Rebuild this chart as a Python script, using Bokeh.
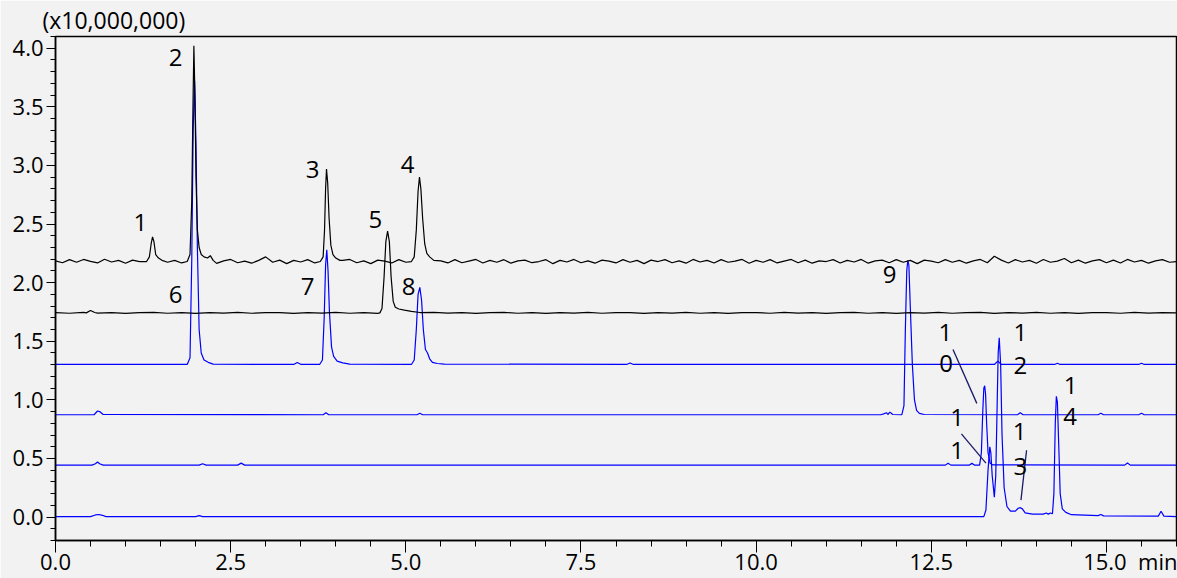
import numpy as np
from bokeh.plotting import figure
from bokeh.models import Range1d, PrintfTickFormatter, SingleIntervalTicker, Title
from bokeh.embed import file_html
from bokeh.resources import INLINE
from bokeh.core.properties import value

FONT = "Open Sans"

# ---------------- data: time (min), intensity (x10,000,000) ----------------
grid_a_t = np.round(np.arange(0, 16.001, 0.1), 2)
trace_a_base = 2.18
trace_a_noise = [
    0.006, -0.010, 0.016, -0.006, 0.018, 0.002, -0.012, 0.020, -0.004, 0.010,
    -0.014, 0.012, 0.000, 0.018, -0.010, 0.014, -0.006, 0.010, -0.012, 0.006,
    0.014, -0.010, 0.012, -0.016, 0.006, 0.018, -0.010, 0.004, -0.014, 0.010,
    0.040, -0.006, 0.012, -0.018, 0.010, -0.004, 0.016, -0.012, 0.006, 0.000,
    -0.014, 0.010, 0.018, -0.010, 0.006, -0.018, 0.012, 0.004, -0.012, 0.016,
    -0.006, 0.010, -0.016, 0.018, -0.004, 0.006, -0.012, 0.016, -0.010, 0.004,
    0.018, -0.012, 0.010, -0.006, 0.016, -0.014, 0.006, 0.012, -0.010, 0.000,
    0.016, -0.018, 0.010, -0.004, 0.018, -0.010, 0.006, -0.014, 0.012, 0.004,
    -0.012, 0.016, -0.006, 0.010, -0.018, 0.012, 0.000, 0.016, -0.010, 0.006,
    -0.014, 0.018, -0.004, 0.010, -0.012, 0.016, -0.006, 0.004, 0.018, -0.014,
    0.010, -0.006, 0.016, -0.012, 0.004, 0.018, -0.010, 0.012, -0.014, 0.006,
    0.000, 0.016, -0.012, 0.010, -0.004, 0.018, -0.014, 0.006, 0.012, -0.010,
    0.016, -0.006, 0.010, -0.018, 0.012, 0.004, -0.010, 0.016, -0.006, 0.010,
    -0.014, 0.006, 0.018, -0.010, 0.045, 0.012, -0.012, 0.016, -0.004, 0.010,
    -0.014, 0.018, -0.006, 0.004, 0.026, -0.010, 0.012, -0.014, 0.006, 0.016,
    -0.010, 0.012, -0.012, 0.018, -0.004, 0.010, -0.014, 0.006, 0.016, -0.006,
    0.000,
]
trace_a_peaks_t = [
    [1.30, 1.34, 1.365, 1.385, 1.405, 1.43, 1.47, 1.52],
    [1.88, 1.92, 1.945, 1.962, 1.975, 1.99, 2.005, 2.025, 2.05, 2.08, 2.12, 2.17, 2.21, 2.25],
    [3.78, 3.82, 3.84, 3.855, 3.868, 3.885, 3.905, 3.93, 3.96, 4.00, 4.06],
    [5.08, 5.12, 5.15, 5.175, 5.195, 5.215, 5.24, 5.27, 5.30, 5.34, 5.40],
]
trace_a_peaks_y = [
    [2.18, 2.22, 2.33, 2.39, 2.35, 2.24, 2.21, 2.19],
    [2.18, 2.24, 2.70, 3.50, 4.02, 3.60, 2.90, 2.45, 2.30, 2.24, 2.22, 2.21, 2.23, 2.19],
    [2.18, 2.22, 2.45, 2.80, 2.97, 2.85, 2.55, 2.32, 2.24, 2.21, 2.19],
    [2.18, 2.22, 2.45, 2.78, 2.90, 2.80, 2.55, 2.33, 2.25, 2.22, 2.19],
]

grid_b_t = np.round(np.arange(0, 16.001, 0.2), 2)
trace_b_base = 1.742
trace_b_noise = [
    0.002, -0.003, 0.004, -0.002, 0.003, -0.004, 0.002, 0.004, -0.003, 0.002,
    -0.004, 0.003, -0.002, 0.004, -0.003, 0.002, 0.003, -0.004, 0.002, -0.002,
    0.004, -0.003, 0.002, -0.004, 0.003, 0.002, -0.003, 0.004, -0.002, 0.003,
    -0.004, 0.002, 0.004, -0.003, 0.002, -0.004, 0.003, -0.002, 0.004, -0.003,
    0.002, 0.003, -0.004, 0.002, -0.002, 0.004, -0.003, 0.002, -0.004, 0.003,
    0.002, -0.003, 0.004, -0.002, 0.003, -0.004, 0.002, 0.004, -0.003, 0.002,
    -0.004, 0.003, -0.002, 0.004, -0.003, 0.002, 0.005, -0.004, 0.002, -0.002,
    0.004, -0.003, 0.002, -0.004, 0.003, 0.002, -0.003, 0.004, -0.002, 0.003,
    0.000,
]
trace_b_peaks_t = [
    [0.44, 0.50, 0.56],
    [4.63, 4.66, 4.69, 4.715, 4.74, 4.765, 4.79, 4.82, 4.85, 4.90, 4.98, 5.08, 5.20],
]
trace_b_peaks_y = [
    [1.742, 1.762, 1.745],
    [1.742, 1.78, 2.05, 2.35, 2.44, 2.35, 2.05, 1.84, 1.79, 1.775, 1.765, 1.755, 1.745],
]

trace_c_base = 1.302
trace_c_peaks_t = [
    [1.88, 1.92, 1.945, 1.965, 1.985, 2.005, 2.025, 2.05, 2.08, 2.12, 2.18, 2.25],
    [3.40, 3.45, 3.50],
    [3.77, 3.81, 3.835, 3.855, 3.872, 3.89, 3.91, 3.94, 3.97, 4.02, 4.10, 4.20],
    [5.08, 5.12, 5.15, 5.175, 5.20, 5.225, 5.25, 5.28, 5.31, 5.34, 5.38, 5.45, 5.55],
    [8.15, 8.20, 8.25],
    [13.40, 13.45, 13.50],
    [14.26, 14.30, 14.34],
    [15.46, 15.50, 15.54],
]
trace_c_peaks_y = [
    [1.302, 1.36, 2.20, 3.30, 3.72, 3.20, 2.30, 1.60, 1.40, 1.34, 1.32, 1.305],
    [1.302, 1.318, 1.303],
    [1.302, 1.34, 1.70, 2.15, 2.28, 2.10, 1.75, 1.45, 1.37, 1.33, 1.315, 1.305],
    [1.302, 1.34, 1.60, 1.90, 1.96, 1.85, 1.60, 1.43, 1.40, 1.35, 1.32, 1.31, 1.305],
    [1.302, 1.315, 1.302],
    [1.302, 1.33, 1.302],
    [1.302, 1.312, 1.302],
    [1.302, 1.312, 1.302],
]

trace_d_base = 0.873
trace_d_peaks_t = [
    [0.55, 0.60, 0.63, 0.68],
    [3.82, 3.86, 3.90],
    [5.16, 5.20, 5.24],
    [11.78, 11.82, 11.86, 11.88, 11.91, 11.95],
    [12.08, 12.11, 12.13, 12.15, 12.165, 12.18, 12.20, 12.23, 12.26, 12.29, 12.33, 12.40],
    [13.73, 13.77, 13.81],
    [14.88, 14.92, 14.96],
    [15.46, 15.50, 15.54],
]
trace_d_peaks_y = [
    [0.873, 0.905, 0.90, 0.875],
    [0.873, 0.89, 0.873],
    [0.873, 0.885, 0.873],
    [0.873, 0.88, 0.89, 0.875, 0.895, 0.875],
    [0.873, 0.95, 1.60, 2.10, 2.19, 2.15, 1.80, 1.30, 1.00, 0.91, 0.885, 0.875],
    [0.873, 0.89, 0.873],
    [0.873, 0.885, 0.873],
    [0.873, 0.885, 0.873],
]

trace_e_base = 0.443
trace_e_peaks_t = [
    [0.52, 0.57, 0.60, 0.63, 0.68],
    [2.05, 2.10, 2.15],
    [2.60, 2.65, 2.70],
    [12.70, 12.74, 12.78],
    [13.04, 13.08, 13.12],
    [13.19, 13.215, 13.235, 13.25, 13.262, 13.275, 13.29, 13.31, 13.34, 13.38],
    [15.26, 15.30, 15.34],
]
trace_e_peaks_y = [
    [0.443, 0.455, 0.47, 0.455, 0.443],
    [0.443, 0.455, 0.443],
    [0.443, 0.46, 0.443],
    [0.443, 0.46, 0.443],
    [0.443, 0.458, 0.443],
    [0.443, 0.55, 0.90, 1.10, 1.12, 1.05, 0.80, 0.55, 0.46, 0.445],
    [0.443, 0.462, 0.443],
]

trace_f_base = 0.004
trace_f_peaks_t = [
    [0.50, 0.57, 0.62, 0.67, 0.72],
    [2.00, 2.05, 2.10],
    [13.25, 13.28, 13.31, 13.335, 13.35, 13.37, 13.40, 13.42, 13.44, 13.455, 13.47,
     13.49, 13.51, 13.54, 13.58, 13.63, 13.70, 13.74, 13.77, 13.80, 13.84, 13.90],
    [13.95, 14.10, 14.14, 14.17, 14.20, 14.22],
    [14.23, 14.25, 14.27, 14.285, 14.30, 14.32, 14.34, 14.37, 14.42, 14.50],
    [14.88, 14.92, 14.96],
    [15.74, 15.78, 15.82],
]
trace_f_peaks_y = [
    [0.004, 0.018, 0.022, 0.015, 0.004],
    [0.004, 0.012, 0.004],
    [0.004, 0.06, 0.40, 0.60, 0.55, 0.35, 0.17, 0.35, 0.95, 1.40, 1.53,
     1.30, 0.70, 0.25, 0.09, 0.05, 0.05, 0.075, 0.08, 0.07, 0.035, 0.03],
    [0.025, 0.025, 0.035, 0.025, 0.035, 0.03],
    [0.03, 0.20, 0.80, 1.03, 0.98, 0.60, 0.20, 0.07, 0.04, 0.02],
    [0.012, 0.022, 0.010],
    [0.008, 0.050, 0.008],
]

peak_label_text = ["1", "2", "3", "4", "5", "6", "7", "8", "9",
                   "1", "0", "1", "2", "1", "1", "1", "3", "1", "4"]
peak_label_x = [1.213, 1.713, 3.668, 5.024, 4.567, 1.713, 3.597, 5.039, 11.904,
                12.70, 12.71, 13.77, 13.77, 12.87, 12.87, 13.76, 13.77, 14.49, 14.48]
peak_label_y = [2.516, 3.921, 2.967, 3.010, 2.542, 1.903, 1.963, 1.963, 2.073,
                1.571, 1.307, 1.571, 1.290, 0.847, 0.566, 0.728, 0.430, 1.120, 0.856]

leader_x0 = [12.81, 12.93, 13.86]
leader_y0 = [1.43, 0.71, 0.57]
leader_x1 = [13.15, 13.28, 13.78]
leader_y1 = [0.97, 0.46, 0.145]

y_scale_text = "(x10,000,000)"
x_unit_text = "min"


def build(base, grid_t, noise, peaks_t, peaks_y):
    pts = [(float(t), base + n) for t, n in zip(grid_t, noise)]
    for pt in peaks_t:
        pts = [(t, y) for t, y in pts if not (pt[0] <= t <= pt[-1])]
    for pt, py in zip(peaks_t, peaks_y):
        pts += list(zip(pt, py))
    pts.sort(key=lambda q: q[0])
    return [q[0] for q in pts], [q[1] for q in pts]


flat_t = [0.0, 16.0]
flat_n = [0.0, 0.0]

traces = [
    (build(trace_c_base, flat_t, flat_n, trace_c_peaks_t, trace_c_peaks_y), "#0000ff"),
    (build(trace_d_base, flat_t, flat_n, trace_d_peaks_t, trace_d_peaks_y), "#0000ff"),
    (build(trace_e_base, flat_t, flat_n, trace_e_peaks_t, trace_e_peaks_y), "#0000ff"),
    (build(trace_f_base, flat_t, flat_n, trace_f_peaks_t, trace_f_peaks_y), "#0000ff"),
    (build(trace_b_base, grid_b_t, trace_b_noise, trace_b_peaks_t, trace_b_peaks_y), "#000000"),
    (build(trace_a_base, grid_a_t, trace_a_noise, trace_a_peaks_t, trace_a_peaks_y), "#000000"),
]

p = figure(width=1177, height=578, output_backend="svg", toolbar_location=None,
           x_range=Range1d(0, 16.0), y_range=Range1d(-0.2, 4.1),
           min_border_left=55, min_border_top=36, min_border_right=1, min_border_bottom=37,
           background_fill_color="#f2f2f2", border_fill_color="#f2f2f2")
p.outline_line_color = "black"
p.outline_line_width = 1.5
p.xgrid.visible = False
p.ygrid.visible = False

p.add_layout(Title(text=y_scale_text, align="left", offset=-13, standoff=1,
                   text_font=FONT, text_font_size="23px", text_font_style="normal",
                   text_color="black"), "above")

for (tx, ty), col in traces:
    p.line(tx, ty, line_color=col, line_width=1.2)

p.segment(leader_x0, leader_y0, leader_x1, leader_y1, line_color="#1a1a66", line_width=1.3)
p.text(peak_label_x, peak_label_y, text=peak_label_text, text_align="center",
       text_baseline="middle", text_font=value(FONT), text_font_size="24px", text_color="black")

for ax in (p.xaxis[0], p.yaxis[0]):
    ax.formatter = PrintfTickFormatter(format="%.1f")
    ax.axis_line_color = "black"
    ax.axis_line_width = 1.5
    ax.major_tick_line_color = "black"
    ax.minor_tick_line_color = "black"
    ax.major_label_text_font = FONT
    ax.major_label_text_font_size = "22px"
    ax.major_label_text_color = "black"
    ax.major_tick_in = 0
    ax.minor_tick_in = 0

p.xaxis[0].ticker = SingleIntervalTicker(interval=2.5, num_minor_ticks=5)
p.yaxis[0].ticker = SingleIntervalTicker(interval=0.5, num_minor_ticks=5)
p.xaxis[0].major_tick_out = 12
p.xaxis[0].minor_tick_out = 6
p.xaxis[0].major_label_standoff = -7
nb = "\u00a0"
p.xaxis[0].major_label_overrides = {15: nb * 9 + "15.0" + nb * 2 + x_unit_text}
p.yaxis[0].major_tick_out = 9
p.yaxis[0].minor_tick_out = 5
p.yaxis[0].major_label_standoff = 3

open("out.html", "w").write(file_html(p, INLINE))
